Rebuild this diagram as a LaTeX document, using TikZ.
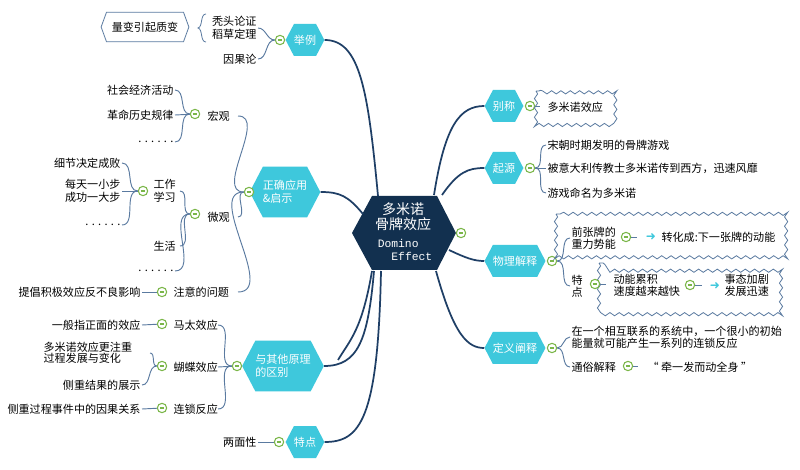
\documentclass[tikz,border=0pt]{standalone}
\usepackage{fontspec}
\setmainfont{Noto Sans CJK SC}
\setmonofont{Liberation Mono}
\newfontfamily\djv{DejaVu Sans}
\usetikzlibrary{shapes.symbols,decorations.pathmorphing}
\definecolor{navy}{HTML}{12304F}
\definecolor{cyanb}{HTML}{3EC8DC}
\definecolor{lnk}{HTML}{5A7AA0}
\definecolor{grn}{HTML}{7AB648}
\definecolor{bline}{HTML}{1F3F66}
\tikzset{
 txt/.style={font=\fontsize{8.3}{9.5}\selectfont,inner sep=1pt,align=left},
 txtr/.style={txt,anchor=east,align=right},
 txtl/.style={txt,anchor=west},
 hexb/.style={signal,signal to=west and east,signal pointer angle=125,fill=cyanb,text=white,font=\fontsize{8.3}{9.5}\selectfont,align=left,inner xsep=0pt,inner ysep=3pt},
 mk/.style={circle,draw=grn,fill=white,line width=0.8pt,minimum size=7,inner sep=0,
   path picture={\draw[grn,line width=0.8pt]([xshift=-1.6pt]path picture bounding box.center)--([xshift=1.6pt]path picture bounding box.center);}},
 lk/.style={lnk,line width=0.7pt},
 mainl/.style={bline,line width=1.3pt},
 wavy/.style={draw=lnk,line width=0.6pt,decorate,decoration={snake,amplitude=1.2,segment length=7}},
 arr/.style={text=cyanb,font=\djv\fontsize{9}{9}\selectfont\bfseries,inner sep=0}
}
\begin{document}
\begin{tikzpicture}[x=0.75pt,y=-0.75pt]
\useasboundingbox[fill=white] (0,0) rectangle (800,470);
% center
\fill[navy] (352,233) -- (372,196) -- (437,196) -- (456,233) -- (437,270) -- (372,270) -- cycle;
\node[text=white,font=\fontsize{10.5}{11.5}\selectfont,align=center] (ct) at (403,217) {多米诺\\骨牌效应};
\node[text=white,font=\ttfamily\fontsize{8.5}{10}\selectfont,align=left] (ct2) at (405,250) {Domino\\\ \ Effect};
\node[mk] (mc) at (461,233) {};
% branches
\node[hexb,minimum height=24] (j) at (305,40) {举例};
\node[hexb,minimum height=38] (z) at (285,192) {正确应用\\\&启示};
\node[hexb,minimum height=38] (q) at (283,366) {与其他原理\\的区别};
\node[hexb,minimum height=24] (t) at (305,442) {特点};
\node[hexb,minimum height=24] (b) at (504,106) {别称};
\node[hexb,minimum height=24] (y) at (504,168) {起源};
\node[hexb,minimum height=24] (w) at (515,261) {物理解释};
\node[hexb,minimum height=24] (d) at (515,348) {定义阐释};
\draw[mainl] (378,196) .. controls (368,90) and (360,40) .. (j.east);
\draw[mainl] (363,214) .. controls (348,196) and (340,192) .. (z.east);
\draw[mainl] (374,271) .. controls (368,340) and (358,366) .. (q.east);
\draw[mainl] (381,271) .. controls (378,420) and (360,442) .. (t.east);
\draw[mainl] (372,271) .. controls (362,330) and (350,340) .. (338,360);
\draw[mainl] (434,195) .. controls (445,125) and (460,106) .. (b.west);
\draw[mainl] (442,195) .. controls (458,172) and (468,168) .. (y.west);
\draw[mainl] (449,250) .. controls (466,258) and (474,261) .. (w.west);
\draw[mainl] (436,271) .. controls (454,336) and (468,348) .. (d.west);
% 举例
\node[mk] (mj) at (280,40) {};
\node[txtr] (j1) at (258,28) {秃头论证\\稻草定理};
\node[txtr] (j2) at (258,59) {因果论};
\node[signal,signal to=west and east,signal pointer angle=140,draw=lnk,line width=0.6pt,fill=white,txt,inner xsep=4pt,minimum height=22] (lz) at (145,27) {量变引起质变};
\draw[lnk,line width=0.6pt] (206,14) .. controls (200,14) and (203,27) .. (198,28) .. controls (203,29) and (200,42) .. (206,42);
\draw[lk] (mj) to[out=180,in=0] (j1.east);
\draw[lk] (mj) to[out=180,in=0] (j2.east);
% 正确应用
\node[mk] (mz) at (249,192) {};
\node[txtl] (hg) at (206,116) {宏观};
\node[txtl] (wg) at (206,217) {微观};
\node[txtl] (zy) at (172,292) {注意的问题};
\draw[lk] (mz) to[out=180,in=0] (238,116);
\draw[lk] (mz) to[out=180,in=0] (238,217);
\draw[lk] (mz) to[out=180,in=0] (238,292);
\node[mk] (mh) at (195,114) {};
\node[txtr] (h1) at (175,90) {社会经济活动};
\node[txtr] (h2) at (175,115) {革命历史规律};
\node[txtr] (h3) at (175,142) {. . . . . .};
\draw[lk] (mh) to[out=180,in=0] (h1.east);
\draw[lk] (mh) -- (h2.east);
\draw[lk] (mh) to[out=180,in=0] (h3.east);
\node[mk] (mw) at (195,214) {};
\node[txtl] (gz) at (152,191) {工作\\学习};
\node[txtl] (sh) at (152,246) {生活};
\node[txtr] (w3) at (175,271) {. . . . . .};
\draw[lk] (mw) to[out=180,in=0] (180,191);
\draw[lk] (mw) to[out=180,in=0] (180,246);
\draw[lk] (mw) to[out=180,in=0] (w3.east);
\node[mk] (mg) at (143,191) {};
\node[txtr] (g1) at (122,163) {细节决定成败};
\node[txtr] (g2) at (122,191) {每天一小步\\成功一大步};
\node[txtr] (g3) at (122,225) {. . . . . .};
\draw[lk] (mg) to[out=180,in=0] (g1.east);
\draw[lk] (mg) -- (g2.east);
\draw[lk] (mg) to[out=180,in=0] (g3.east);
\node[mk] (ma) at (162,292) {};
\node[txtr] (a1) at (142,292) {提倡积极效应反不良影响};
\draw[lk] (ma) -- (a1.east);
% 区别
\node[mk] (mq) at (237,366) {};
\node[txtl] (mt) at (172,325) {马太效应};
\node[txtl] (hd) at (172,367) {蝴蝶效应};
\node[txtl] (ls) at (172,409) {连锁反应};
\draw[lk] (mq) to[out=180,in=0] (218,325);
\draw[lk] (mq) -- (218,367);
\draw[lk] (mq) to[out=180,in=0] (218,409);
\node[mk] (m1) at (162,324) {};
\node[txtr] (q1) at (142,325) {一般指正面的效应};
\draw[lk] (m1) -- (q1.east);
\node[mk] (m2) at (162,366) {};
\node[txtl,font=\fontsize{8.3}{8.6}\selectfont] (q2) at (42,353) {多米诺效应更注重\\过程发展与变化};
\node[txtr] (q3) at (142,385) {侧重结果的展示};
\draw[lk] (m2) to[out=180,in=0] (150,353);
\draw[lk] (m2) to[out=180,in=0] (q3.east);
\node[mk] (m3) at (162,408) {};
\node[txtr] (q4) at (142,409) {侧重过程事件中的因果关系};
\draw[lk] (m3) -- (q4.east);
% 特点
\node[mk] (mt2) at (279,442) {};
\node[txtr] (t1) at (258,442) {两面性};
\draw[lk] (mt2) -- (t1.east);
% 别称
\node[mk] (mb) at (530,106) {};
\draw[wavy] (536,91) rectangle (618,123);
\node[txtl] (b1) at (546,107) {多米诺效应};
\draw[lk] (mb) -- (540,106);
% 起源
\node[mk] (my) at (530,168) {};
\node[txtl] (y1) at (546,145) {宋朝时期发明的骨牌游戏};
\node[txtl] (y2) at (546,168) {被意大利传教士多米诺传到西方，迅速风靡};
\node[txtl] (y3) at (546,193) {游戏命名为多米诺};
\draw[lk] (my) to[out=0,in=180] (y1.west);
\draw[lk] (my) -- (y2.west);
\draw[lk] (my) to[out=0,in=180] (y3.west);
% 物理解释
\node[mk] (mw2) at (552,261) {};
\draw[wavy] (556,214) rectangle (790,258);
\draw[wavy] (599,263) rectangle (783,308);
\node[txtl,font=\fontsize{8.3}{8.8}\selectfont] (p1) at (570,238) {前张牌的\\重力势能};
\node[txtl,font=\fontsize{8.3}{8.8}\selectfont] (p2) at (570,286) {特\\点};
\draw[lk] (mw2) to[out=0,in=180] (p1.west);
\draw[lk] (mw2) to[out=0,in=180] (p2.west);
\node[mk] (mp1) at (626,237) {};
\draw[lk] (mp1) -- (637,237);
\node[arr] (ar1) at (651,237) {➜};
\node[txtl] (p3) at (660,237) {转化成:下一张牌的动能};
\node[mk] (mp2) at (595,284) {};
\draw[lk] (mp2) -- (606,284);
\node[txtl,font=\fontsize{8.3}{8.8}\selectfont] (p4) at (612,285) {动能累积\\速度越来越快};
\node[mk] (mp3) at (690,285) {};
\draw[lk] (mp3) -- (702,285);
\node[arr] (ar2) at (715,286) {➜};
\node[txtl,font=\fontsize{8.3}{8.8}\selectfont] (p5) at (723,285) {事态加剧\\发展迅速};
% 定义阐释
\node[mk] (md) at (552,348) {};
\node[txtl,font=\fontsize{8.3}{9}\selectfont] (d1) at (570,337) {在一个相互联系的系统中，一个很小的初始\\能量就可能产生一系列的连锁反应};
\node[txtl] (d2) at (570,367) {通俗解释};
\draw[lk] (md) to[out=0,in=180] (d1.west);
\draw[lk] (md) to[out=0,in=180] (d2.west);
\node[mk] (md2) at (628,366) {};
\draw[lk] (md2) -- (638,366);
\node[txtl] (d3) at (646,367) {“ 牵一发而动全身 ”};
\end{tikzpicture}
\end{document}
